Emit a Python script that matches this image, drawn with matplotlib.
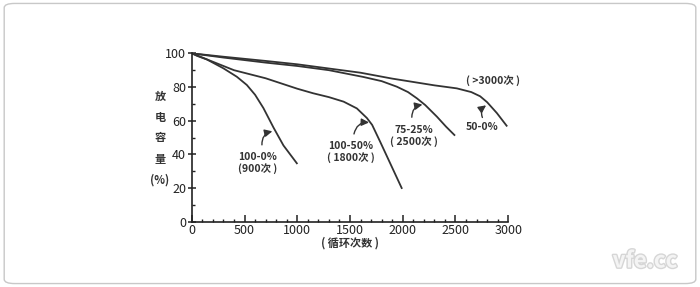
import matplotlib
matplotlib.use("Agg")
from matplotlib import pyplot as plt
from matplotlib.patches import FancyBboxPatch
from matplotlib.ticker import MultipleLocator
import matplotlib.patheffects as pe

plt.rcParams['font.family'] = ['Noto Sans CJK SC', 'DejaVu Sans']

# curve 100-0% (900次)
x_900 = [0, 50, 142, 300, 427, 522, 600, 679, 774, 869, 996]
y_900 = [100, 98.5, 96.4, 91.1, 86.1, 81.2, 75.4, 67.5, 56, 45.3, 34.7]

# curve 100-50% (1800次)
x_1800 = [0, 100, 200, 400, 700, 1000, 1150, 1300, 1440, 1565, 1660, 1710, 1786, 1881, 1990]
y_1800 = [100, 97.5, 95, 90, 85.2, 79, 76.3, 74, 71.3, 67.3, 61.6, 57.5, 47.5, 34.7, 20]

# curve 75-25% (2500次)
x_2500 = [0, 300, 700, 1000, 1300, 1625, 1800, 1944, 2050, 2134, 2213, 2324, 2410, 2490]
y_2500 = [100, 97.5, 94.5, 92.5, 90, 86, 83.5, 80.2, 77, 73.3, 69.3, 62.4, 56.5, 51.5]

# curve 50-0% (>3000次)
x_3000 = [0, 300, 700, 1000, 1300, 1600, 1900, 2100, 2300, 2513, 2650, 2734, 2800, 2893, 2985]
y_3000 = [100, 98, 95.5, 93.5, 91, 88.5, 85, 83, 81, 79.2, 77, 74.5, 71, 64.5, 57]

x_ticks = [0, 500, 1000, 1500, 2000, 2500, 3000]
y_ticks = [0, 20, 40, 60, 80, 100]

# labels: text, text position, arrow tail, arrow head
notes = [
    ("100-0%\n(900次 )", (627, 35), (667, 44), (790, 54)),
    ("100-50%\n( 1800次 )", (1505, 41.5), (1533, 50.5), (1707, 58.8)),
    ("75-25%\n( 2500次 )", (2103, 51), (2087, 60.4), (2213, 69.8)),
    ("50-0%", (2751, 56.4), (2766, 60.4), (2813, 70)),
]

fig = plt.figure(figsize=(7, 2.87), dpi=100)
frame = FancyBboxPatch((0.006, 0.012), 0.988, 0.976,
                       boxstyle="round,pad=0,rounding_size=0.015",
                       transform=fig.transFigure, facecolor="none",
                       edgecolor="#c8c8c8", linewidth=1.0, zorder=-10)
fig.patches.append(frame)
ax = fig.add_axes([0.274, 0.2275, 0.452, 0.5866])
ax.patch.set_alpha(0)

line_kw = dict(color="#333333", linewidth=1.3, solid_joinstyle="round")
for xs, ys in [(x_900, y_900), (x_1800, y_1800), (x_2500, y_2500), (x_3000, y_3000)]:
    ax.plot(xs, ys, **line_kw)

ax.set_xlim(0, 3000)
ax.set_ylim(0, 100)
ax.set_xticks(x_ticks)
ax.set_yticks(y_ticks)
ax.xaxis.set_minor_locator(MultipleLocator(100))
ax.yaxis.set_minor_locator(MultipleLocator(10))
ax.tick_params(which="major", width=1.1, labelsize=9, colors="#222222", pad=2)
ax.tick_params(axis="x", which="major", direction="in", length=5)
ax.tick_params(axis="y", which="major", direction="inout", length=6, pad=1)
ax.tick_params(which="minor", direction="in", length=2.5, width=1.0, colors="#222222")
ax.spines["top"].set_visible(False)
ax.spines["right"].set_visible(False)
for s in ["left", "bottom"]:
    ax.spines[s].set_linewidth(1.2)
    ax.spines[s].set_color("#222222")

for txt, pos, tail, head in notes:
    ax.text(pos[0], pos[1], txt, ha="center", va="center", fontsize=7.5,
            fontweight="bold", color="#333333", linespacing=1.15)
    ax.annotate("", xy=head, xytext=tail,
                arrowprops=dict(arrowstyle="-|>,head_length=0.45,head_width=0.22",
                                connectionstyle="arc3,rad=-0.5",
                                color="#333333", linewidth=1.0))
ax.text(2858, 84.1, "( >3000次 )", ha="center", va="center", fontsize=7.5,
        fontweight="bold", color="#333333")

fig.text(160 / 700, 1 - 138 / 287, "放\n电\n容\n量\n(%)", ha="center", va="center",
         fontsize=8, fontweight="bold", color="#333333", linespacing=1.8)
fig.text(350 / 700, 1 - 243 / 287, "( 循环次数 )", ha="center", va="center",
         fontsize=8, fontweight="bold", color="#333333")

fig.text(645 / 700, 1 - 261 / 287, "vfe.cc", ha="center", va="center", fontsize=16,
         fontweight="bold", color="#f4f4f4",
         path_effects=[pe.withStroke(linewidth=2, foreground="#d6d6d6")])

fig.savefig("out.png", dpi=100, facecolor="white")
